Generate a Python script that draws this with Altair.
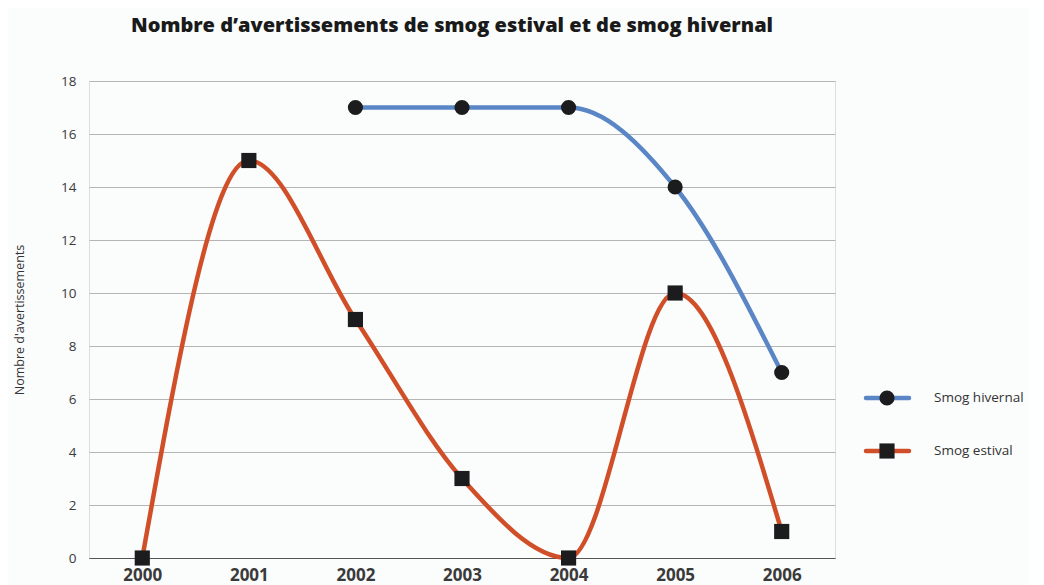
import altair as alt
import pandas as pd

years = ["2000", "2001", "2002", "2003", "2004", "2005", "2006"]
estival = [0, 15, 9, 3, 0, 10, 1]
hiver_years = ["2002", "2003", "2004", "2005", "2006"]
hivernal = [17, 17, 17, 14, 7]

series_names = ["Smog hivernal", "Smog estival"]
series_colors = ["#5a86c6", "#d14f28"]
series_shapes = ["circle", "square"]

rows = [{"year": y, "value": v, "series": "Smog estival"} for y, v in zip(years, estival)]
rows += [{"year": y, "value": v, "series": "Smog hivernal"} for y, v in zip(hiver_years, hivernal)]
df = pd.DataFrame(rows)
legend_df = pd.DataFrame({"series": series_names})

FONT = "Open Sans"
W, H = 746, 477

color_scale = alt.Scale(domain=series_names, range=series_colors)
shape_scale = alt.Scale(domain=series_names, range=series_shapes)

x_enc = alt.X("year:O", scale=alt.Scale(type="point", domain=years, padding=0.5),
              axis=alt.Axis(title=None, labelAngle=0, labelFont=FONT, labelFontSize=17,
                            labelFontWeight="bold", labelColor="#3a3a3a", ticks=False,
                            labelPadding=9, domainColor="#555555", domainWidth=1.2, grid=False))
y_enc = alt.Y("value:Q", scale=alt.Scale(domain=[0, 18], nice=False),
              axis=alt.Axis(title="Nombre d'avertissements", values=list(range(0, 19, 2)),
                            labelFont=FONT, labelFontSize=13.5, labelColor="#3a3a3a",
                            labelPadding=13, ticks=False, domain=False,
                            gridColor="#b5b5b5", gridWidth=1,
                            titleFont=FONT, titleFontSize=12.5, titleFontWeight="normal",
                            titleColor="#333333", titlePadding=34))

base = alt.Chart(df)

lines = base.mark_line(interpolate="monotone", strokeWidth=4.5, strokeCap="round").encode(
    x=x_enc, y=y_enc,
    color=alt.Color("series:N", scale=color_scale, legend=None),
    detail="series:N",
)
points = base.mark_point(filled=True, opacity=1, color="#1c1c1e", strokeWidth=0).encode(
    x=alt.X("year:O", scale=alt.Scale(type="point", domain=years, padding=0.5)),
    y=alt.Y("value:Q", scale=alt.Scale(domain=[0, 18], nice=False)),
    shape=alt.Shape("series:N", scale=shape_scale, legend=None),
    size=alt.value(230),
)

leg_y = alt.Y("series:N", scale=alt.Scale(type="point", domain=series_names, range=[317, 370], padding=0),
              axis=None)
lbase = alt.Chart(legend_df)
leg_rule = lbase.mark_rule(strokeWidth=4.5, strokeCap="round").encode(
    x=alt.value(777), x2=alt.value(820), y=leg_y,
    color=alt.Color("series:N", scale=color_scale, legend=None),
)
leg_pt = lbase.mark_point(filled=True, opacity=1, color="#1c1c1e", strokeWidth=0).encode(
    x=alt.value(798), y=leg_y,
    shape=alt.Shape("series:N", scale=shape_scale, legend=None),
    size=alt.value(230),
)
leg_txt = lbase.mark_text(align="left", baseline="middle", font=FONT, fontSize=13.5,
                          color="#333333").encode(
    x=alt.value(845), y=leg_y, text="series:N",
)

main = alt.layer(lines, points)
legend = alt.layer(leg_rule, leg_pt, leg_txt)

chart = alt.layer(main, legend).resolve_scale(y="independent").properties(
    width=W, height=H,
    padding={"top": 8, "left": 5, "right": 5, "bottom": 5},
    title=alt.TitleParams("Nombre d\u2019avertissements de smog estival et de smog hivernal",
                          font=FONT, fontSize=20, fontWeight=800, color="#1a1a1a",
                          anchor="middle", offset=38, dx=-10),
).configure_view(stroke=None).configure(background="#fbfcfc")

chart.save("out.html", embed_options={"renderer": "svg", "actions": False})
